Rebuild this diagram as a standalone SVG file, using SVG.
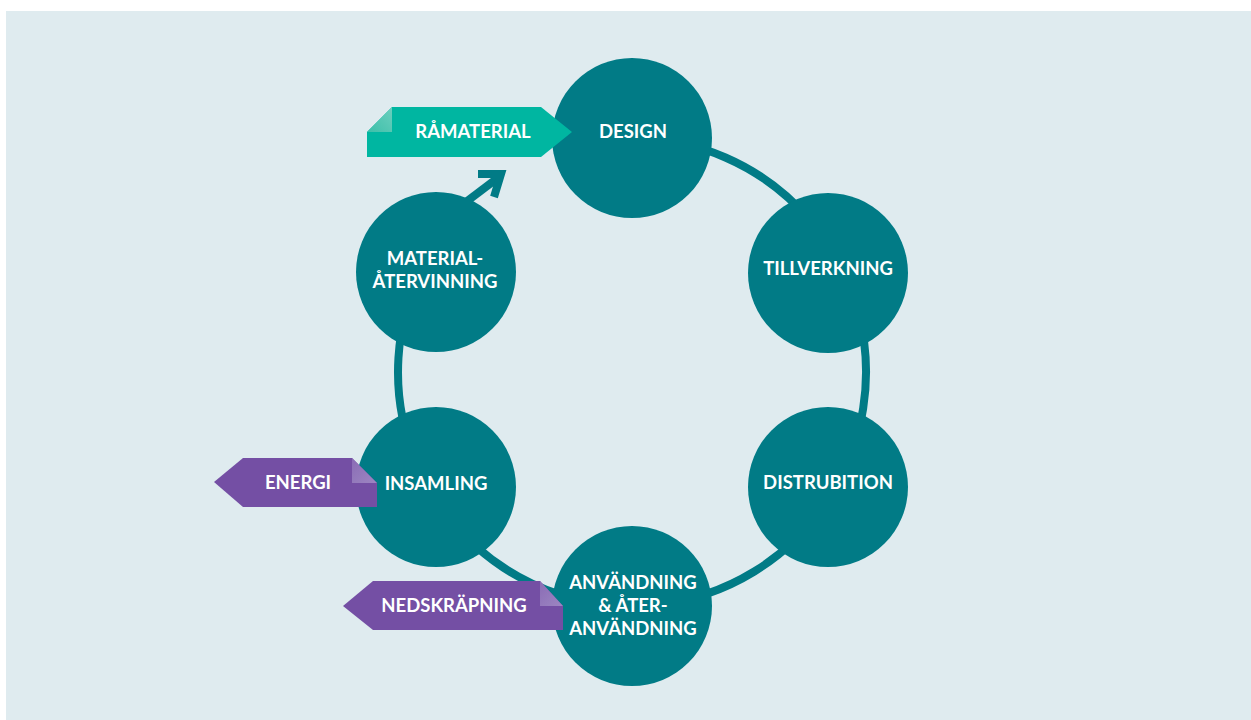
<svg xmlns="http://www.w3.org/2000/svg" width="1251" height="720" viewBox="0 0 1251 720">
<defs>
<style>
.node{fill:#017b86}
.lbl{font-family:Lato,"Open Sans","Liberation Sans",sans-serif;font-weight:bold;font-size:18.5px;fill:#ffffff;text-anchor:middle}
.ring{fill:none;stroke:#017b86;stroke-width:8}
.teal{fill:#00b6a1}
.tealfold{fill:url(#gt)}
.purple{fill:#744fa4}
.purplefold{fill:url(#gp)}
</style>
<linearGradient id="gt" x1="0" y1="1" x2="1" y2="0"><stop offset="0" stop-color="#3cbfa9"/><stop offset="1" stop-color="#6ccfbe"/></linearGradient>
<linearGradient id="gp" x1="0" y1="0" x2="1" y2="1"><stop offset="0" stop-color="#8a6cb5"/><stop offset="1" stop-color="#9d86c2"/></linearGradient>
</defs>
<rect x="0" y="0" width="1251" height="720" fill="#ffffff"/>
<rect x="6" y="11" width="1245" height="709" fill="#dfebef"/>
<g id="connectors">
<path class="ring" d="M632,138 A234,234 0 1 1 423.5,265.8"/>
<line class="ring" x1="462" y1="205" x2="499" y2="177"/>
<polyline class="ring" points="478,174 501,174 494,197" stroke-linejoin="miter"/>
</g>
<g id="design"><circle class="node" cx="632" cy="138" r="80"/><text class="lbl" x="633" y="138">DESIGN</text></g>
<g id="tillverkning"><circle class="node" cx="828" cy="273" r="80"/><text class="lbl" x="828" y="275">TILLVERKNING</text></g>
<g id="distrubition"><circle class="node" cx="828" cy="487" r="80"/><text class="lbl" x="828" y="489">DISTRUBITION</text></g>
<g id="anvandning"><circle class="node" cx="632" cy="606" r="80"/><text class="lbl" x="633" y="589">ANVÄNDNING</text><text class="lbl" x="633" y="612">&amp; ÅTER-</text><text class="lbl" x="633" y="635">ANVÄNDNING</text></g>
<g id="insamling"><circle class="node" cx="436" cy="487" r="80"/><text class="lbl" x="436" y="490">INSAMLING</text></g>
<g id="materialatervinning"><circle class="node" cx="436" cy="272" r="80"/><text class="lbl" x="435" y="265">MATERIAL-</text><text class="lbl" x="435" y="288">ÅTERVINNING</text></g>
<g id="ramaterial"><polygon class="teal" points="367,132 392,107 541,107 572,132 541,157 367,157"/><polygon class="tealfold" points="367,132 392,107 392,132"/><text class="lbl" x="473" y="138">RÅMATERIAL</text></g>
<g id="energi"><polygon class="purple" points="214,482 243,458 352,458 377,483 377,507 243,507"/><polygon class="purplefold" points="352,458 377,483 352,483"/><text class="lbl" x="298" y="489">ENERGI</text></g>
<g id="nedskrapning"><polygon class="purple" points="343,606 373,581 540,581 563,606 563,630 373,630"/><polygon class="purplefold" points="540,581 563,606 540,606"/><text class="lbl" x="454" y="612">NEDSKRÄPNING</text></g>
</svg>
